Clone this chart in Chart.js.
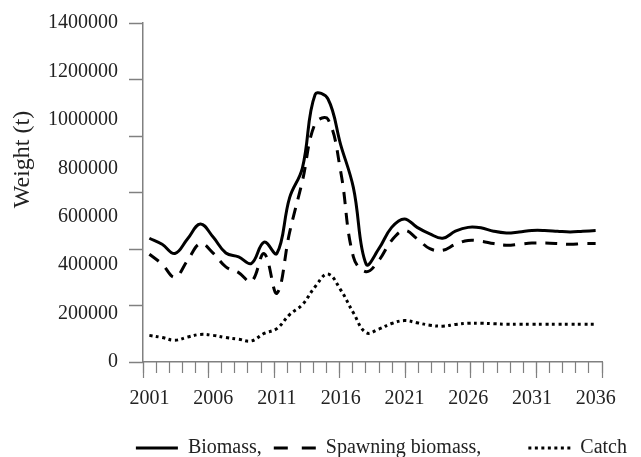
<!DOCTYPE html>
<html>
<head>
<meta charset="utf-8">
<script src="https://cdn.jsdelivr.net/npm/chart.js@4/dist/chart.umd.min.js"></script>
<style>
html,body{margin:0;padding:0;background:#fff;}
#wrap{width:641px;height:457px;}
</style>
</head>
<body>
<div id="wrap"><canvas id="c" width="641" height="457"></canvas></div>
<script>
const years = ['2001','2002','2003','2004','2005','2006','2007','2008','2009','2010',
  '2011','2012','2013','2014','2015','2016','2017','2018','2019','2020',
  '2021','2022','2023','2024','2025','2026','2027','2028','2029','2030',
  '2031','2032','2033','2034','2035','2036'];
const xTickLabels = ['2001','2006','2011','2016','2021','2026','2031','2036'];
const yTickValues = [0,200000,400000,600000,800000,1000000,1200000,1400000];

const biomass = [511000,486000,448000,509000,570000,516000,450000,434000,407000,495000,
  448000,679000,801000,1105000,1087000,898000,720000,404000,468000,556000,
  591000,556000,529000,511000,540000,556000,554000,540000,533000,537000,
  543000,543000,540000,537000,540000,543000];
const spawningBiomass = [445000,404000,350000,420000,489000,450000,393000,369000,332000,448000,
  284000,536000,747000,985000,1003000,788000,434000,373000,420000,502000,
  543000,509000,468000,461000,486000,502000,499000,489000,482000,486000,
  491000,491000,489000,486000,489000,489000];
const catchValues = [110000,101000,90000,103000,114000,110000,101000,94000,87000,118000,
  138000,196000,237000,311000,363000,298000,203000,121000,136000,159000,
  171000,162000,152000,148000,155000,160000,160000,158000,156000,156000,
  156000,156000,156000,156000,156000,156000];

Chart.defaults.font.family = "'Liberation Serif','Times New Roman',serif";
Chart.defaults.font.size = 20;
Chart.defaults.color = '#222';

const axisGray = '#808080';
const legendDashes = [[], [14, 14], [3, 3.5]];

new Chart(document.getElementById('c'), {
  type: 'line',
  data: {
    labels: years,
    datasets: [
      {label: 'Biomass,  ', data: biomass, borderColor: '#000', backgroundColor: '#000',
       borderWidth: 3, pointRadius: 0, tension: 0.4, fill: false, borderCapStyle: 'butt'},
      {label: 'Spawning biomass,         ', data: spawningBiomass, borderColor: '#000', backgroundColor: '#000',
       borderWidth: 3, borderDash: [12, 9], pointRadius: 0, tension: 0.4, fill: false, borderCapStyle: 'butt'},
      {label: 'Catch', data: catchValues, borderColor: '#000', backgroundColor: '#000',
       borderWidth: 3, borderDash: [3, 3.5], pointRadius: 0, tension: 0.4, fill: false, borderCapStyle: 'butt'}
    ]
  },
  options: {
    responsive: false,
    animation: false,
    devicePixelRatio: 1,
    layout: {padding: {top: 2, right: 12, bottom: -11, left: 0}},
    plugins: {
      tooltip: {enabled: false},
      legend: {
        position: 'bottom',
        align: 'end',
        labels: {
          usePointStyle: true, pointStyle: 'line', pointStyleWidth: 42, padding: 2,
          color: '#222', font: {size: 20},
          generateLabels: chart => {
            const items = Chart.defaults.plugins.legend.labels.generateLabels(chart);
            items.forEach(it => {
              const ds = chart.data.datasets[it.datasetIndex];
              it.lineDash = legendDashes[it.datasetIndex];
              it.lineWidth = ds.borderWidth;
              it.lineCap = 'butt';
              it.strokeStyle = '#000';
              it.pointStyle = 'line';
            });
            return items;
          }
        }
      }
    },
    scales: {
      x: {
        type: 'category',
        position: 'bottom',
        offset: true,
        grid: {display: true, drawOnChartArea: false, drawTicks: false},
        border: {display: true, color: axisGray, width: 1.5},
        ticks: {autoSkip: false, maxRotation: 0, minRotation: 0, padding: 25,
                callback: (v, i) => xTickLabels.includes(years[i]) ? years[i] : ''}
      },
      y: {
        type: 'linear',
        min: 0, max: 1400000,
        afterBuildTicks: s => { s.ticks = yTickValues.map(v => ({value: v})); },
        afterFit: s => { s.width = 143; },
        ticks: {padding: 11, callback: v => String(v)},
        grid: {drawOnChartArea: false, tickLength: 14, tickColor: 'rgba(0,0,0,0)'},
        border: {display: true, color: axisGray, width: 1.5},
        title: {display: true, text: '           Weight (t)', font: {size: 24}, color: '#222',
                padding: {top: 8, bottom: 2}}
      },
      yr: {
        type: 'linear',
        position: 'right',
        display: true,
        ticks: {display: false},
        grid: {display: false},
        border: {display: false},
        afterFit: s => { s.width = 14; }
      },
      yt: {
        type: 'linear',
        position: {x: -0.5},
        min: 0, max: 6,
        ticks: {display: false, stepSize: 1},
        grid: {drawOnChartArea: false, tickLength: 14, tickColor: axisGray, tickWidth: 1.5},
        border: {display: false}
      },
      xs: {
        type: 'linear',
        position: {y: 0},
        min: 0, max: 35,
        ticks: {display: false, stepSize: 1},
        grid: {drawOnChartArea: false, tickLength: 11, tickColor: axisGray, tickWidth: 1.2},
        border: {display: false}
      },
      xl: {
        type: 'linear',
        position: {y: 0},
        min: 0, max: 35,
        ticks: {display: false, stepSize: 5},
        grid: {drawOnChartArea: false, tickLength: 16, tickColor: axisGray, tickWidth: 1.2},
        border: {display: false}
      }
    }
  }
});
</script>
</body>
</html>
